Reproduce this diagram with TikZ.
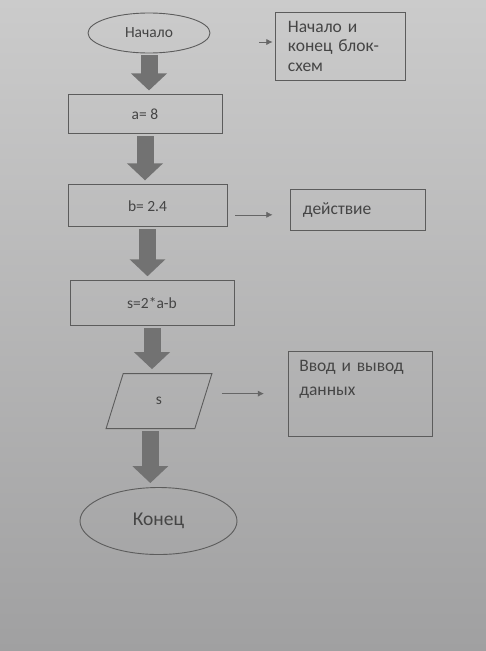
\documentclass[tikz,border=0pt]{standalone}
\usepackage{fontspec}
\setmainfont{Carlito}
\usetikzlibrary{arrows.meta,calc,positioning,shapes.geometric}
\definecolor{PaperTop}{HTML}{CBCBCB}
\definecolor{PaperBot}{HTML}{A0A0A1}
\definecolor{InkGray}{HTML}{5C5C5C}
\definecolor{FlowGray}{HTML}{727272}
\definecolor{TextGray}{HTML}{454545}

\begin{document}
\begin{tikzpicture}[x=1pt,y=-1pt,
      blk/.style={draw=InkGray,line width=0.9pt,text=TextGray,
        font=\fontsize{15.5}{18}\selectfont},
      term/.style={blk,ellipse},
      iobox/.style={blk,trapezium,trapezium left angle=78,
        trapezium right angle=102,trapezium stretches=true},
      note/.style={draw=InkGray,line width=0.9pt,text=TextGray,align=left,
        inner xsep=12pt,font=\fontsize{17.5}{19.5}\selectfont},
      flow/.style={line width=17pt,draw=FlowGray,
        -{Triangle[length=17pt,width=35pt]},shorten <=2pt,shorten >=4pt},
      hint/.style={draw=gray!70,line width=0.5pt,
        -{Latex[length=6pt,width=6pt]},color=gray!80!black}
    ]
      \shade[top color=PaperTop,bottom color=PaperBot] (0,0) rectangle (486,651);
      % main chain
      \node[term,minimum width=122pt,minimum height=40pt] (start) at (149,33) {Начало};
      \node[blk,minimum width=154pt,minimum height=39pt,below=41pt of start,xshift=-4pt]
        (seta) {a= 8};
      \node[blk,minimum width=159pt,minimum height=42pt,below=50pt of seta,xshift=2.5pt]
        (setb) {b= 2.4};
      \node[blk,minimum width=164pt,minimum height=45pt,below=53pt of setb,xshift=4.5pt]
        (sexpr) {s=2*a-b};
      \node[iobox,minimum width=106pt,minimum height=55pt,below=47pt of sexpr,xshift=7pt]
        (outs) {s};
      \node[term,minimum width=157pt,minimum height=67pt,below=58pt of outs,xshift=-0.5pt,
        font=\fontsize{19.5}{22}\selectfont] (stop) {Конец};
      \coordinate (outbot) at ($(outs.bottom left corner)!0.5!(outs.bottom right corner)$);
      \draw[flow] (start.south) -- (start.south |- seta.north);
      \draw[flow] (seta.south) -- (seta.south |- setb.north);
      \draw[flow] (setb.south) -- (setb.south |- sexpr.north);
      \draw[flow] (sexpr.south) -- (sexpr.south |- outs.north);
      \draw[flow] (outbot) -- (outbot |- stop.north);
      % legend
      \node[note,text width=106pt,minimum height=68pt,right=65pt of start,yshift=-13pt]
        (noteterm) {Начало и\\конец блок-\\схем};
      \node[note,text width=111pt,minimum height=41pt,right=63pt of setb,yshift=-4.5pt]
        (noteact) {действие};
      \node[note,inner xsep=11pt,text width=122pt,minimum height=85pt,text depth=56pt,
        font=\fontsize{17.5}{24}\selectfont,right=84pt of outs,yshift=7pt]
        (noteio) {Ввод и вывод\\данных};
      \coordinate (hintsrc) at ([xshift=-16pt,yshift=4pt]noteterm.west);
      \draw[hint,shorten >=3pt] (hintsrc) -- (hintsrc -| noteterm.west);
      \draw[hint,shorten <=8pt,shorten >=18pt] ([yshift=-9pt]setb.east)
        -- ([yshift=-9pt]setb.east -| noteact.west);
      \draw[hint,shorten <=18pt,shorten >=24pt] ([yshift=7.5pt]outs.east)
        -- ([yshift=7.5pt]outs.east -| noteio.west);
    \end{tikzpicture}
\end{document}
